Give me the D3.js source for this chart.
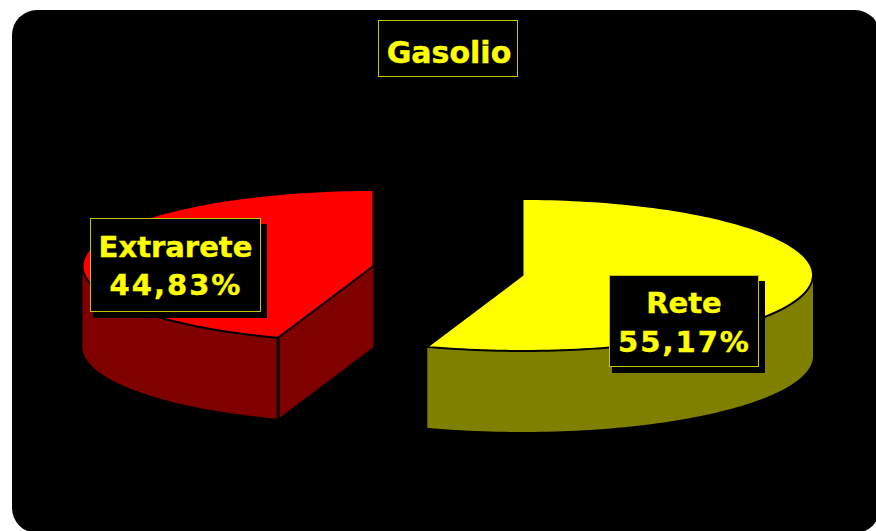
<!DOCTYPE html>
<html><head><meta charset="utf-8">
<script src="https://cdn.jsdelivr.net/npm/d3@7"></script>
<style>html,body{margin:0;padding:0;background:#fff;overflow:hidden}svg{display:block}</style>
</head><body>
<svg id="c" width="876" height="531"></svg>
<script>
const titleText = "Gasolio";
const categories = ["Rete", "Extrarete"];
const values = [55.17, 44.83];
const valueLabels = ["55,17%", "44,83%"];
const topColors = ["#ffff00", "#ff0000"];
const sideColors = ["#808000", "#800000"];

const FONT = "'DejaVu Sans',Verdana,sans-serif";
const rxs = [290.5, 291], ry = 76, depth = 81;
const centers = [[522.5, 275], [373.5, 266]];
const labelBoxes = [[609, 275, 149, 91], [90, 218, 170, 93]];
const baselines = [[313, 351.5], [257, 295]];
const cutNudge = 0.009; // the drawn 3D projection moves the cut slightly

const svg = d3.select("#c");
svg.append("rect").attr("x", 12).attr("y", 10).attr("width", 868).attr("height", 523).attr("rx", 25).attr("fill", "#000");

const arcs = d3.pie().sort(null).value(d => d)(values);
const line = d3.line();

arcs.forEach((arc, i) => {
  const c = centers[i], rx = rxs[i], g = svg.append("g");
  const pt = (a, dy = 0) => [c[0] + rx * Math.sin(a), c[1] - ry * Math.cos(a) + dy];
  const rim = (a0, a1, dy = 0) => {
    const n = Math.max(2, Math.ceil(Math.abs(a1 - a0) * 40));
    return d3.range(n + 1).map(k => pt(a0 + (a1 - a0) * k / n, dy));
  };
  const start = i === 0 ? arc.startAngle : arc.startAngle + cutNudge;
  const end = i === 0 ? arc.endAngle + cutNudge : arc.endAngle;
  const a0 = Math.max(start, Math.PI / 2), a1 = Math.min(end, 3 * Math.PI / 2);
  // outer wall
  if (a1 > a0) {
    g.append("path").attr("d", line(rim(a0, a1).concat(rim(a1, a0, depth))) + "Z").attr("fill", sideColors[i]);
  }
  // cut face visible for the slice that starts at the lower left
  if (start > Math.PI && start < 1.5 * Math.PI) {
    const e = pt(start);
    g.append("path").attr("d", line([c, e, [e[0], e[1] + depth], [c[0], c[1] + depth]]) + "Z").attr("fill", sideColors[i]);
    g.append("path").attr("d", line([e, [e[0], e[1] + depth]])).attr("stroke", "#000").attr("stroke-width", 3).attr("fill", "none");
  }
  // top surface
  g.append("path").attr("d", line([c].concat(rim(start, end))) + "Z").attr("fill", topColors[i]).attr("stroke", "#000").attr("stroke-width", 2);
});

// data labels
categories.forEach((name, i) => {
  const [x, y, w, h] = labelBoxes[i];
  svg.append("rect").attr("x", x + 3).attr("y", y + 6).attr("width", w + 4).attr("height", h + 1).attr("fill", "#000");
  svg.append("rect").attr("x", x + .5).attr("y", y + .5).attr("width", w).attr("height", h).attr("fill", "#000").attr("stroke", "#c4c400").attr("stroke-width", 1);
  [name, valueLabels[i]].forEach((t, k) => {
    svg.append("text").attr("x", x + w / 2 + (k ? 1 : .5)).attr("y", baselines[i][k]).attr("text-anchor", "middle")
      .attr("font-family", FONT).attr("font-weight", "bold").attr("font-size", 29)
      .attr("letter-spacing", k ? 2 : 0)
      .attr("fill", "#ffff00").attr("stroke", "#ffff00").attr("stroke-width", .4).text(t);
  });
});

// title
svg.append("rect").attr("x", 378.5).attr("y", 20.5).attr("width", 139).attr("height", 56).attr("fill", "#000").attr("stroke", "#c4c400").attr("stroke-width", 1);
svg.append("text").attr("x", 449).attr("y", 63).attr("text-anchor", "middle")
  .attr("font-family", FONT).attr("font-weight", "bold").attr("font-size", 30)
  .attr("fill", "#ffff00").attr("stroke", "#ffff00").attr("stroke-width", .4).text(titleText);
</script>
</body></html>
